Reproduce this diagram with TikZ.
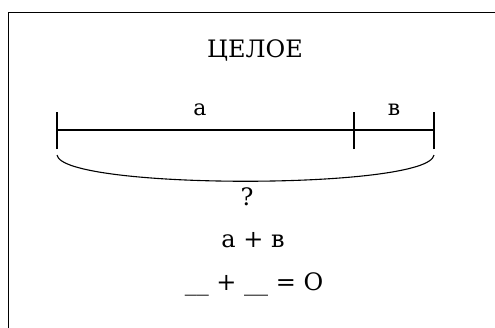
\documentclass[tikz,border=0pt]{standalone}
\usepackage{fontspec}
\setmainfont{DejaVu Serif}
\begin{document}
\begin{tikzpicture}[x=1pt,y=-1pt,line width=1.1pt,
  lbl/.style={inner sep=0pt,anchor=base,font=\fontsize{22}{26}\selectfont},
  big/.style={inner sep=0pt,anchor=base,font=\fontsize{24}{28}\selectfont}]
\useasboundingbox (0,0) rectangle (495,327);
\clip (0,0) rectangle (495,327);
\draw (8.5,12.5) rectangle (505,340);
% the whole and its two parts
\coordinate (A) at (57,130);
\coordinate (M) at (354,130);
\coordinate (B) at (434,130);
\draw (A) -- (B);
\foreach \p in {A,M,B}
  \draw ([yshift=-19pt]\p) -- ([yshift=18pt]\p);
\node[big] (title) at (255,57) {ЦЕЛОЕ};
\node[lbl] (la) at (200,115) {а};
\node[lbl] (lb) at (394,115) {в};
% brace under the segment
\coordinate (bl) at (57,155);
\coordinate (br) at (434,155);
\draw (bl) .. controls (62,190) and (429,190) .. (br);
\node[big] (q) at (247,205) {?};
\node[big] (sum) at (253,247) {а + в};
\node[big] (eq) at (254,290) {\_\_ + \_\_ = О};
\end{tikzpicture}
\end{document}
